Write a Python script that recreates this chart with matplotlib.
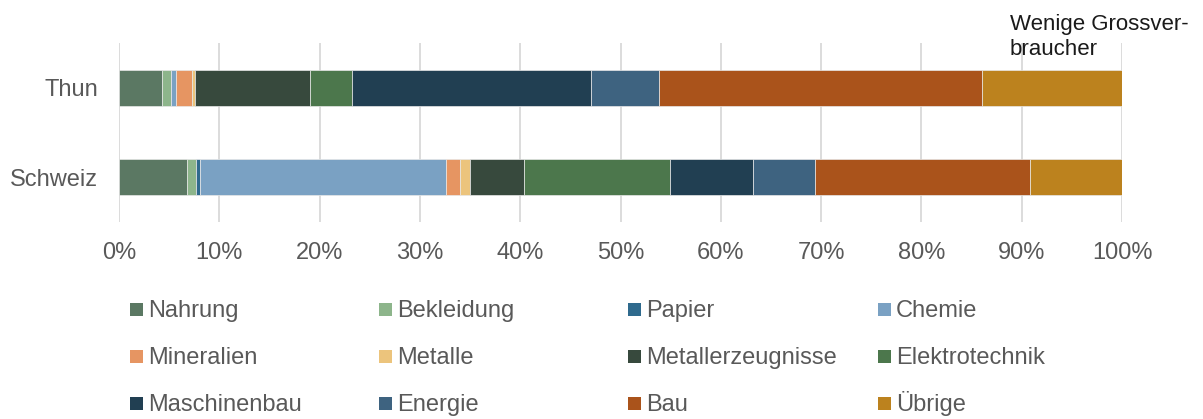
import matplotlib
matplotlib.use("Agg")
import matplotlib.pyplot as plt
from matplotlib.patches import Rectangle
import numpy as np

plt.rcParams['font.family'] = ['Liberation Sans', 'DejaVu Sans']

categories = ["Thun", "Schweiz"]
sectors = ["Nahrung", "Bekleidung", "Papier", "Chemie", "Mineralien", "Metalle",
           "Metallerzeugnisse", "Elektrotechnik", "Maschinenbau", "Energie", "Bau", "Übrige"]
thun = [4.26, 0.90, 0.05, 0.46, 1.57, 0.37, 11.45, 4.16, 23.79, 6.78, 32.22, 13.99]
schweiz = [6.81, 0.84, 0.46, 24.49, 1.43, 0.97, 5.41, 14.49, 8.31, 6.21, 21.41, 9.17]
colors = ["#5B7863", "#8DB58B", "#2F6A8D", "#7AA1C3", "#E69562", "#ECC47C",
          "#37493D", "#4C774C", "#213F52", "#3E6380", "#AA531B", "#BC821E"]
xticks = [0, 10, 20, 30, 40, 50, 60, 70, 80, 90, 100]
note = "Wenige Grossver-\nbraucher"

W, H = 1203, 419
fig = plt.figure(figsize=(W / 100, H / 100), dpi=100)
ax = fig.add_axes([119 / W, 1 - 221.5 / H, (1122 - 119) / W, 178 / H])

values = np.array([thun, schweiz])
ypos = np.arange(len(categories))
left = np.zeros(len(categories))
for i, name in enumerate(sectors):
    ax.barh(ypos, values[:, i], left=left, height=0.405, color=colors[i],
            edgecolor="#e8e8e8", linewidth=0.5, zorder=3, label=name)
    left += values[:, i]

ax.set_xlim(0, 100)
ax.set_ylim(-0.5, 1.5)
ax.invert_yaxis()
ax.set_yticks(ypos)
ax.set_yticklabels(categories)
ax.set_xticks(xticks)
ax.set_xticklabels([f"{t}%" for t in xticks])
ax.tick_params(axis='both', length=0, labelsize=17, colors="#595959")
ax.tick_params(axis='y', pad=15)
ax.tick_params(axis='x', pad=15)
ax.grid(axis='x', color="#d9d9d9", linewidth=1.3, zorder=0)
for s in ax.spines.values():
    s.set_visible(False)

# legend: 4 columns x 3 rows, row-wise order, uniform column widths
col_x = [130, 379, 628, 878]
row_base = [317, 364, 411]
msize = 13
for i, name in enumerate(sectors):
    c, r = i % 4, i // 4
    x0, yb = col_x[c], row_base[r]
    fig.add_artist(Rectangle((x0 / W, 1 - (yb - 1) / H), msize / W, msize / H,
                             transform=fig.transFigure, facecolor=colors[i],
                             edgecolor='none'))
    fig.text((x0 + msize + 5) / W, 1 - yb / H, name, ha='left', va='baseline',
             fontsize=17, color="#595959")

fig.text(1010 / W, 1 - 14 / H, note, ha='left', va='top', fontsize=16,
         color="#1a1a1a", linespacing=1.22)

fig.savefig("out.png", dpi=100)
